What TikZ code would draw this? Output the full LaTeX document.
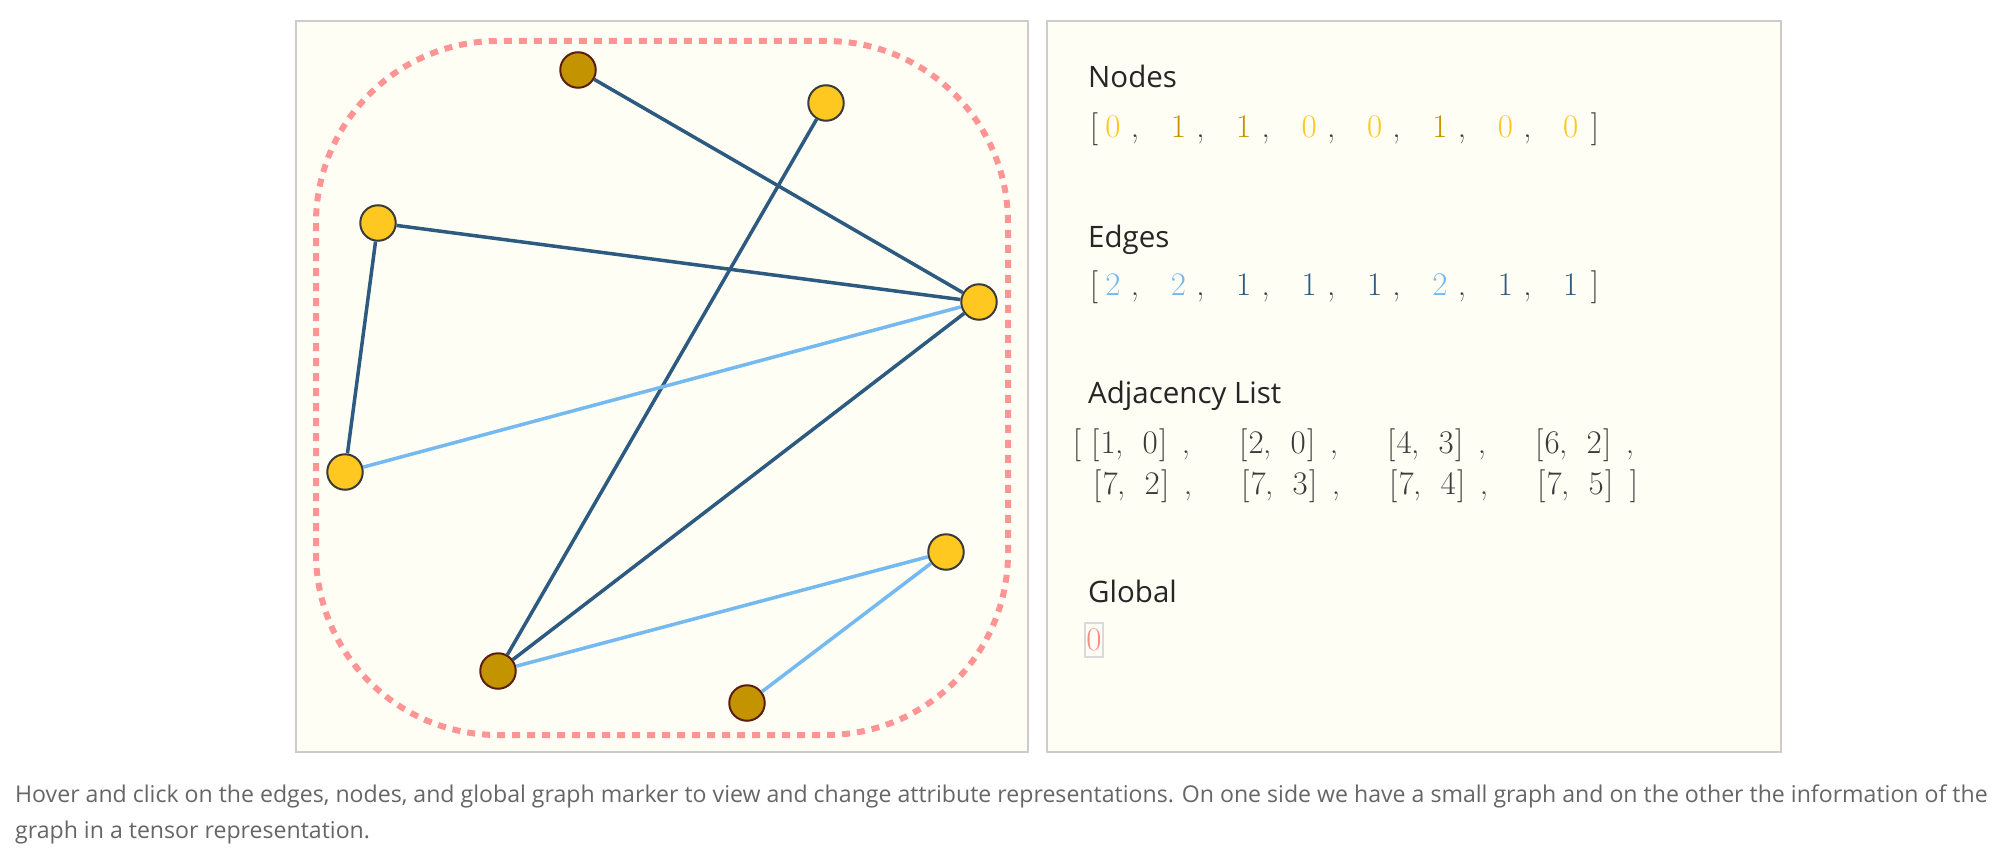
\documentclass[tikz,border=0pt]{standalone}
\usepackage{fontspec}
\newfontfamily\uifont{Open Sans}

\definecolor{panelbg}{HTML}{FEFEF5}
\definecolor{panelline}{HTML}{CCCCCC}
\definecolor{ringpink}{HTML}{FF9494}
\definecolor{edgedark}{HTML}{2D5A80}
\definecolor{edgelight}{HTML}{74B9F0}
\definecolor{nodeyellow}{HTML}{FFC820}
\definecolor{nodegold}{HTML}{C49400}
\definecolor{goldrim}{HTML}{5A1E10}
\definecolor{yellowrim}{HTML}{3A3A3A}
\definecolor{headtext}{HTML}{262626}
\definecolor{listtext}{HTML}{3C3C3C}
\definecolor{captext}{HTML}{666666}
\definecolor{globalpink}{HTML}{FF8A8A}
\definecolor{boxgray}{HTML}{DADADA}

\newcommand\valfont{\fontsize{33}{38}\selectfont}
\newcommand\headfont{\uifont\fontsize{29.5}{35}\selectfont}
\newcommand\capfont{\uifont\fontsize{23.1}{36}\selectfont}
\newcommand\pairtext[2]{\makebox[0pt]{[}\hspace{13pt}\makebox[0pt]{#1}\hspace{11pt}\makebox[0pt]{,}\hspace{31pt}\makebox[0pt]{#2}\hspace{13pt}\makebox[0pt]{]}}

\begin{document}
\begin{tikzpicture}[x=1pt,y=-1pt,
    panel/.style={fill=panelbg,draw=panelline,line width=1.5pt},
    ynode/.style={circle,minimum size=35.5pt,inner sep=0pt,line width=2pt,fill=nodeyellow,draw=yellowrim},
    gnode/.style={ynode,fill=nodegold,draw=goldrim},
    dark/.style={edgedark,line width=3.5pt},
    light/.style={edgelight,line width=3.5pt},
    head/.style={font=\headfont,text=headtext,inner sep=0pt,anchor=base west},
    val/.style={font=\valfont,text=listtext,inner sep=0pt,anchor=base},
    captionline/.style={font=\capfont,text=captext,inner sep=0pt,anchor=base west}]
        \fill[white] (0,0) rectangle (1993,864);
        \useasboundingbox (0,0) rectangle (1993,864);

        % Panels
        \draw[panel] (296,21) rectangle (1028,752);
        \draw[panel] (1047,21) rectangle (1781,752);

        % Global marker
        \draw[ringpink,line width=6pt,dash pattern=on 8pt off 7pt,rounded corners=182pt] (316,41) rectangle (1008,735);

        % Graph nodes
        \node[ynode] (n0) at (946,552) {};
        \node[gnode] (n1) at (747,703) {};
        \node[gnode] (n2) at (498,671) {};
        \node[ynode] (n3) at (345,472) {};
        \node[ynode] (n4) at (378,223) {};
        \node[gnode] (n5) at (578,70) {};
        \node[ynode] (n6) at (826,103) {};
        \node[ynode] (n7) at (979,302) {};

        % Graph edges
        \draw[light] (n1) -- (n0);
        \draw[light] (n2) -- (n0);
        \draw[dark] (n4) -- (n3);
        \draw[dark] (n6) -- (n2);
        \draw[dark] (n7) -- (n2);
        \draw[light] (n7) -- (n3);
        \draw[dark] (n7) -- (n4);
        \draw[dark] (n7) -- (n5);

        % Nodes
        \node[head] (hnodes) at (1088,88) {Nodes};
        \node[val] (nl) at (1094,138) {[};
        \foreach \v/\c [count=\i from 0] in {0/nodeyellow,1/nodegold,1/nodegold,0/nodeyellow,0/nodeyellow,1/nodegold,0/nodeyellow,0/nodeyellow} {
          \node[val,text=\c] (nv\i) at ({1113+65.4*\i},138) {\v};
        }
        \foreach \i in {0,...,6} {
          \node[val] (nc\i) at ({1135+65.4*\i},138) {,};
        }
        \node[val] (nr) at (1595,138) {]};

        % Edges
        \node[head] (hedges) at (1088,247) {Edges};
        \node[val] (el) at (1094,295) {[};
        \foreach \v/\c [count=\i from 0] in {2/edgelight,2/edgelight,1/edgedark,1/edgedark,1/edgedark,2/edgelight,1/edgedark,1/edgedark} {
          \node[val,text=\c] (ev\i) at ({1113+65.4*\i},295) {\v};
        }
        \foreach \i in {0,...,6} {
          \node[val] (ec\i) at ({1135+65.4*\i},295) {,};
        }
        \node[val] (er) at (1595,295) {]};

        % Adjacency list
        \node[head] (hadj) at (1088,403) {Adjacency List};
        \node[val] (al) at (1077,453) {[};
        \foreach \a/\b [count=\g from 0] in {1/0,2/0,4/3,6/2} {
          \node[val,anchor=base west] (pa\g) at ({1095+148*\g},453) {\pairtext{\a}{\b}};
          \node[val] (ca\g) at ({1186+148*\g},453) {,};
        }
        \foreach \a/\b [count=\g from 0] in {7/2,7/3,7/4,7/5} {
          \node[val,anchor=base west] (pb\g) at ({1097+148*\g},494) {\pairtext{\a}{\b}};
        }
        \foreach \g in {0,1,2} {
          \node[val] (cb\g) at ({1188+148*\g},494) {,};
        }
        \node[val] (ar) at (1634,494) {]};

        % Global
        \node[head] (hglob) at (1088,602) {Global};
        \node[draw=boxgray,line width=2.5pt,minimum width=18pt,minimum height=34pt,inner sep=0pt] (gbox) at (1094,640) {};
        \node[val,text=globalpink] (gval) at (1094,650) {0};

        % Caption
        \node[captionline] (cap1) at (15,802) {Hover and click on the edges, nodes, and global graph marker to view and change attribute representations. On one side we have a small graph and on the other the information of the};
        \node[captionline] (cap2) at (15,838) {graph in a tensor representation.};
\end{tikzpicture}
\end{document}
